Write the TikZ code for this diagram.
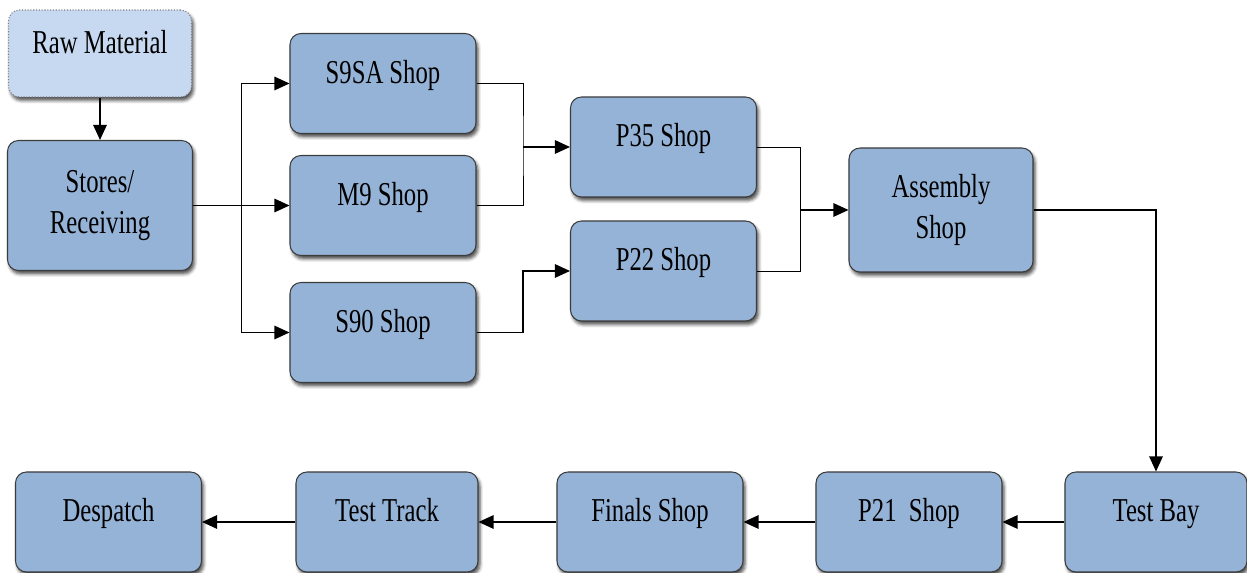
\documentclass[tikz,border=0pt]{standalone}
\usepackage{fontspec}
\setmainfont[FakeStretch=0.74]{Liberation Serif}
\usepackage{tikz}
\usetikzlibrary{calc, shadows.blur, arrows.meta}
\definecolor{shopfill}{RGB}{149,179,215}
\definecolor{rawfill} {RGB}{198,217,241}
\definecolor{boxline} {RGB}{60,60,60}
\newlength\boxwd
\setlength\boxwd{3.72cm}
\newlength\boxht
\setlength\boxht{2.0cm}
\tikzset{
  softshadow/.style={blur shadow={shadow blur steps=4,
    shadow xshift=0.4mm, shadow yshift=-0.7mm, shadow opacity=70}},
  shopbox/.style={rectangle, rounded corners=0.22cm, draw=boxline,
    line width=0.6pt, fill=shopfill, minimum width=\boxwd,
    minimum height=\boxht, align=center, softshadow,
    font=\fontsize{19}{23}\selectfont, text height=0.5cm, text depth=0.5cm},
  rawbox/.style={shopbox, fill=rawfill, draw=gray, densely dotted,
    minimum width=3.66cm, minimum height=1.74cm},
  flow/.style={-{Triangle[length=0.3cm, width=0.27cm]}, line width=0.7pt},
}

\begin{document}
\begin{tikzpicture}[
  twoline/.style={text height={}, text depth={}}]
\useasboundingbox (0,0) rectangle (24.94,11.46);
% boxes, upper part
\node[rawbox] (raw) at (2.0,10.39) {Raw Material};
\node[shopbox, twoline, minimum width=3.7cm, minimum height=2.6cm]
  (stores) at (2.0,7.35) {Stores/\\Receiving};
\node[shopbox] (s9sa) at (7.66,9.79) {S9SA Shop};
\node[shopbox] (m9)   at (7.66,7.35) {M9 Shop};
\node[shopbox] (s90)  at (7.66,4.81) {S90 Shop};
\node[shopbox] (p35)  at (13.27,8.52) {P35 Shop};
\node[shopbox] (p22)  at (13.27,6.04) {P22 Shop};
\node[shopbox, twoline, minimum width=3.68cm, minimum height=2.48cm]
  (asm) at (18.82,7.26) {Assembly\\Shop};
% boxes, lower row
\node[shopbox, minimum width=3.64cm] (bay)  at (23.12,1.02) {Test Bay};
\node[shopbox] (p21)  at (18.18,1.02) {P21 \ Shop};
\node[shopbox] (fin)  at (13.0,1.02)  {Finals Shop};
\node[shopbox, minimum width=3.64cm] (tt)   at (7.74,1.02)  {Test Track};
\node[shopbox] (desp) at (2.17,1.02)  {Despatch};
% branch and join points
\coordinate (fork)  at ($(stores.east)!0.5!(m9.west)$);
\coordinate (joinA) at (10.46,8.52);
\coordinate (joinB) at (10.46,6.04);
\coordinate (joinC) at (16.0,7.26);
% connectors
\draw[flow] (raw) -- (stores);
\draw[flow] (stores.east) -- (m9.west);
\draw[flow] (fork) |- (s9sa.west);
\draw[flow] (fork) |- (s90.west);
\draw (s9sa.east) -| (joinA) |- (m9.east);
\draw[flow] (joinA) -- (p35.west);
\draw[flow] (s90.east) -| (joinB) -- (p22.west);
\draw (p35.east) -| (joinC) |- (p22.east);
\draw[flow] (joinC) -- (asm.west);
\draw[flow] (asm.east) -| (bay.north);
\draw[flow] (bay) -- (p21);
\draw[flow] (p21) -- (fin);
\draw[flow] (fin) -- (tt);
\draw[flow] (tt) -- (desp);
\end{tikzpicture}
\end{document}
